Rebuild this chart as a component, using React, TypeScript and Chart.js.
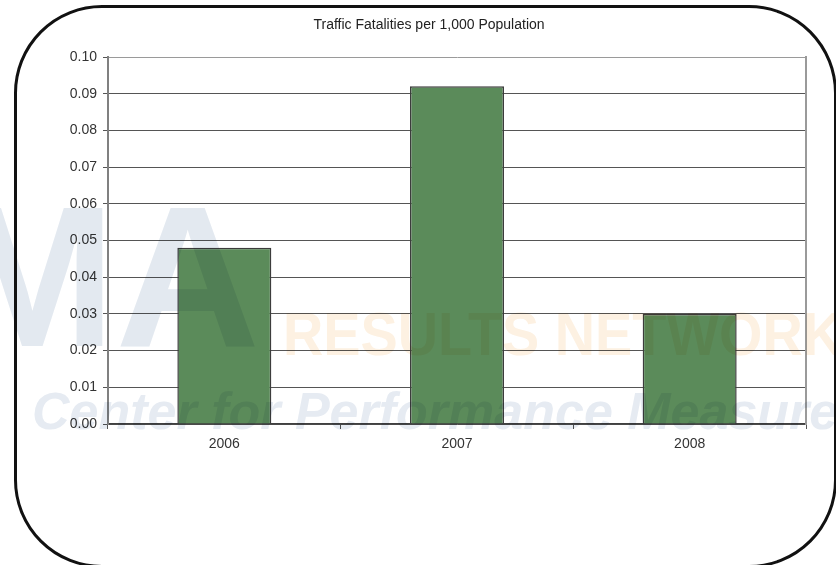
import React, { useEffect, useRef } from "react";
import { Chart, registerables } from "chart.js";

Chart.register(...registerables);

const categories = ["2006", "2007", "2008"];
const fatalities = [0.048, 0.092, 0.03];
const yMin = 0;
const yMax = 0.1;
const yStep = 0.01;
const chartTitle = "Traffic Fatalities per 1,000 Population";

const FONT = "'Liberation Sans', Arial, Helvetica, sans-serif";

export default function App() {
  const canvasRef = useRef<HTMLCanvasElement | null>(null);

  useEffect(() => {
    const canvas = canvasRef.current;
    if (!canvas) return;
    const chart = new Chart(canvas, {
      type: "bar",
      data: {
        labels: categories,
        datasets: [
          {
            label: "Fatalities",
            data: fatalities,
            backgroundColor: "#5b8b5a",
            borderColor: "#3c3c3c",
            borderWidth: 1.5,
            categoryPercentage: 1,
            barPercentage: 0.404,
          },
        ],
      },
      options: {
        responsive: false,
        animation: false,
        layout: { padding: { left: 52, right: 30, top: 0, bottom: 101 } },
        plugins: {
          legend: { display: false },
          tooltip: { enabled: false },
          title: {
            display: true,
            text: chartTitle,
            color: "#222",
            font: { family: FONT, size: 14, weight: "normal" },
            padding: { top: 16.6, bottom: 23.6 },
          },
        },
        scales: {
          x: {
            offset: true,
            grid: {
              display: true,
              offset: true,
              drawOnChartArea: false,
              tickLength: 5,
              color: "#555",
            },
            border: { display: true, color: "#404040", width: 1.5 },
            ticks: {
              color: "#333",
              padding: 7,
              font: { family: FONT, size: 14 },
            },
            afterFit: (scale: any) => {
              scale.height = 40;
            },
          },
          y: {
            min: yMin,
            max: yMax,
            ticks: {
              stepSize: yStep,
              color: "#333",
              padding: 6,
              font: { family: FONT, size: 14 },
              callback: (v: any) => Number(v).toFixed(2),
            },
            grid: {
              tickLength: 5,
              color: (ctx: any) => (ctx.index === 10 ? "#9a9a9a" : "#555"),
              tickColor: "#555",
              lineWidth: 1,
            },
            border: { display: true, color: "#808080", width: 2 },
            afterFit: (scale: any) => {
              scale.width = 56;
            },
          },
          y2: {
            position: "right",
            min: yMin,
            max: yMax,
            ticks: { display: false },
            grid: { drawOnChartArea: false, tickLength: 0, display: false },
            border: { display: true, color: "#9a9a9a", width: 2 },
            afterFit: (scale: any) => {
              scale.width = 0;
            },
          },
        },
      },
    });
    return () => chart.destroy();
  }, []);

  const wm: React.CSSProperties = {
    position: "absolute",
    whiteSpace: "nowrap",
    pointerEvents: "none",
    mixBlendMode: "multiply",
    lineHeight: 1,
    margin: 0,
  };

  return (
    <div
      style={{
        position: "fixed",
        left: 0,
        top: 0,
        width: 836,
        height: 565,
        background: "#fff",
        overflow: "hidden",
      }}
    >
      <canvas
        ref={canvasRef}
        width={836}
        height={565}
        style={{ position: "absolute", left: 0, top: 0, width: 836, height: 565 }}
      />
      <div
        style={{
          ...wm,
          left: -51,
          top: 215 - 200 * 0.19,
          fontFamily: FONT,
          fontWeight: "bold",
          fontSize: 200,
          color: "#e3e9f0",
        }}
      >
        MA
      </div>
      <div
        style={{
          ...wm,
          left: 283,
          top: 315 - 62 * 0.19,
          fontFamily: FONT,
          fontWeight: "bold",
          fontSize: 62,
          color: "#fdf1e2",
          transform: "scaleX(0.9)",
          transformOrigin: "left top",
        }}
      >
        RESULTS NETWORK
      </div>
      <div
        style={{
          ...wm,
          left: 32,
          top: 395 - 52 * 0.19,
          fontFamily: FONT,
          fontWeight: "bold",
          fontStyle: "italic",
          fontSize: 52,
          color: "#e6ebf2",
        }}
      >
        Center for Performance Measurement
      </div>
      <div
        style={{
          position: "absolute",
          left: 14,
          top: 5,
          width: 823,
          height: 563,
          boxSizing: "border-box",
          border: "3px solid #111",
          borderRadius: 88,
          pointerEvents: "none",
        }}
      />
    </div>
  );
}
